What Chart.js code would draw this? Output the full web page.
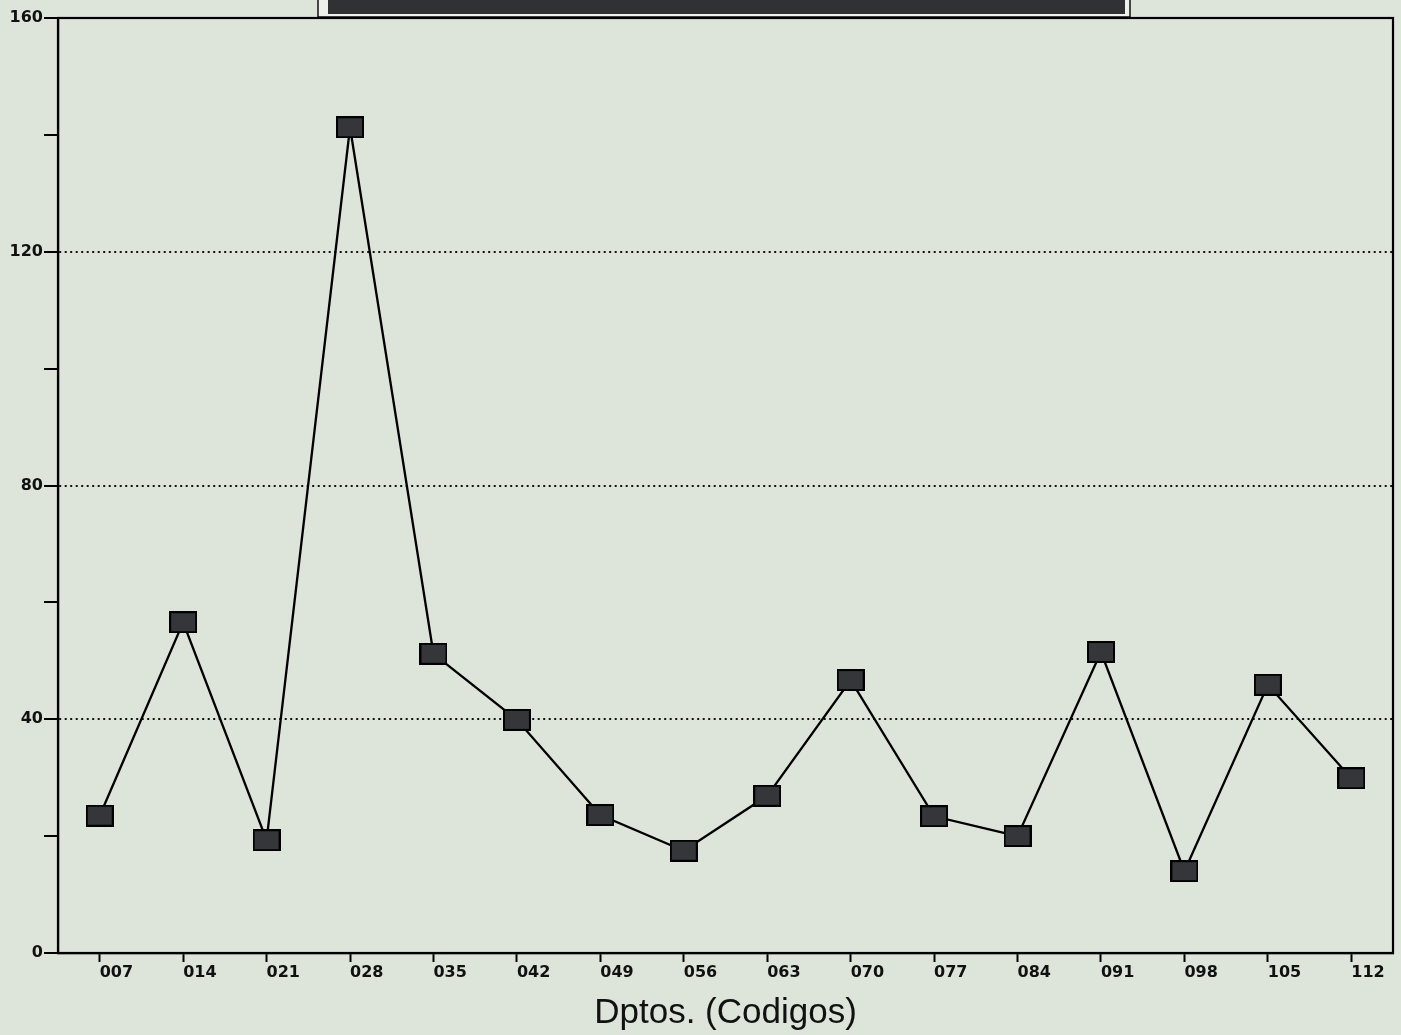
<!DOCTYPE html>
<html>
<head>
<meta charset="utf-8">
<script src="https://cdn.jsdelivr.net/npm/chart.js@4/dist/chart.umd.min.js"></script>
<style>
  html, body { margin: 0; padding: 0; background: #dde4da; }
  #wrap { width: 1401px; height: 1035px; }
</style>
</head>
<body>
<div id="wrap"><canvas id="myChart" width="1401" height="1035"></canvas></div>
<script>
// Data
const codigos = ["007", "014", "021", "028", "035", "042", "049", "056",
                 "063", "070", "077", "084", "091", "098", "105", "112"];
const valores = [23.5, 56.6, 19.3, 141.3, 51.2, 39.9, 23.6, 17.5,
                 26.9, 46.7, 23.4, 20.0, 51.5, 14.0, 45.9, 29.9];
const yTicks = [0, 40, 80, 120, 160];

// square marker (a bit wider than tall)
const marker = document.createElement("canvas");
marker.width = 28;
marker.height = 22;
const mctx = marker.getContext("2d");
mctx.fillStyle = "#34363a";
mctx.fillRect(1, 1, 26, 20);
mctx.strokeStyle = "#000";
mctx.lineWidth = 2;
mctx.strokeRect(1, 1, 26, 20);

// box round the plot + dark bar at the top
const decor = {
  id: "decor",
  beforeDraw(chart) {
    const c = chart.ctx;
    c.save();
    c.fillStyle = "#dde4da";
    c.fillRect(0, 0, chart.width, chart.height);
    c.fillStyle = "#eef1ea";
    c.fillRect(318, -2, 812, 19);
    c.strokeStyle = "#111";
    c.lineWidth = 1.5;
    c.strokeRect(318, -2, 812, 19);
    c.fillStyle = "#2f3134";
    c.fillRect(328, 0, 797, 14);
    c.restore();
  },
  afterDatasetsDraw(chart) {
    const a = chart.chartArea;
    const c = chart.ctx;
    c.save();
    c.strokeStyle = "#000";
    c.lineWidth = 2.2;
    c.strokeRect(a.left, a.top, a.right - a.left, a.bottom - a.top);
    c.restore();
  }
};

const ctx = document.getElementById("myChart").getContext("2d");
new Chart(ctx, {
  type: "line",
  data: {
    labels: codigos,
    datasets: [{
      data: valores,
      borderColor: "#000",
      borderWidth: 2.3,
      tension: 0,
      pointStyle: marker,
      pointRadius: 4,
      pointHoverRadius: 4,
      clip: false
    }]
  },
  options: {
    responsive: false,
    animation: false,
    events: [],
    layout: { padding: { top: 18, right: 8, left: 0, bottom: 0 } },
    plugins: {
      legend: { display: false },
      tooltip: { enabled: false }
    },
    scales: {
      x: {
        offset: true,
        afterFit(s) { s.height = 82; s.paddingRight = 0; s.paddingLeft = 0; },
        grid: {
          offset: false,
          drawOnChartArea: false,
          tickLength: 9,
          tickColor: "#000",
          tickWidth: 2
        },
        border: { color: "#000", width: 2.2 },
        ticks: {
          align: "start",
          padding: 1,
          color: "#111",
          font: { family: "DejaVu Sans", weight: "bold", size: 16 },
          maxRotation: 0,
          autoSkip: false
        },
        title: {
          display: true,
          text: "Dptos. (Codigos)",
          color: "#111",
          font: { family: "Liberation Sans", size: 35 },
          padding: { top: 0, bottom: 1 }
        }
      },
      y: {
        min: 0,
        max: 160,
        afterFit(s) { s.width = 58; },
        ticks: {
          stepSize: 20,
          padding: 1,
          color: "#111",
          font: { family: "DejaVu Sans", weight: "bold", size: 16 },
          callback: (v) => yTicks.includes(v) ? String(v) : ""
        },
        grid: {
          tickLength: 14,
          tickColor: "#000",
          tickWidth: 2,
          lineWidth: 2,
          color: (c) => (c.tick && c.tick.value % 40 === 0 && c.tick.value > 0 && c.tick.value < 160) ? "#111" : "rgba(0,0,0,0)"
        },
        border: { color: "#000", width: 2.2, dash: [2, 3.5] }
      }
    }
  },
  plugins: [decor]
});
</script>
</body>
</html>
